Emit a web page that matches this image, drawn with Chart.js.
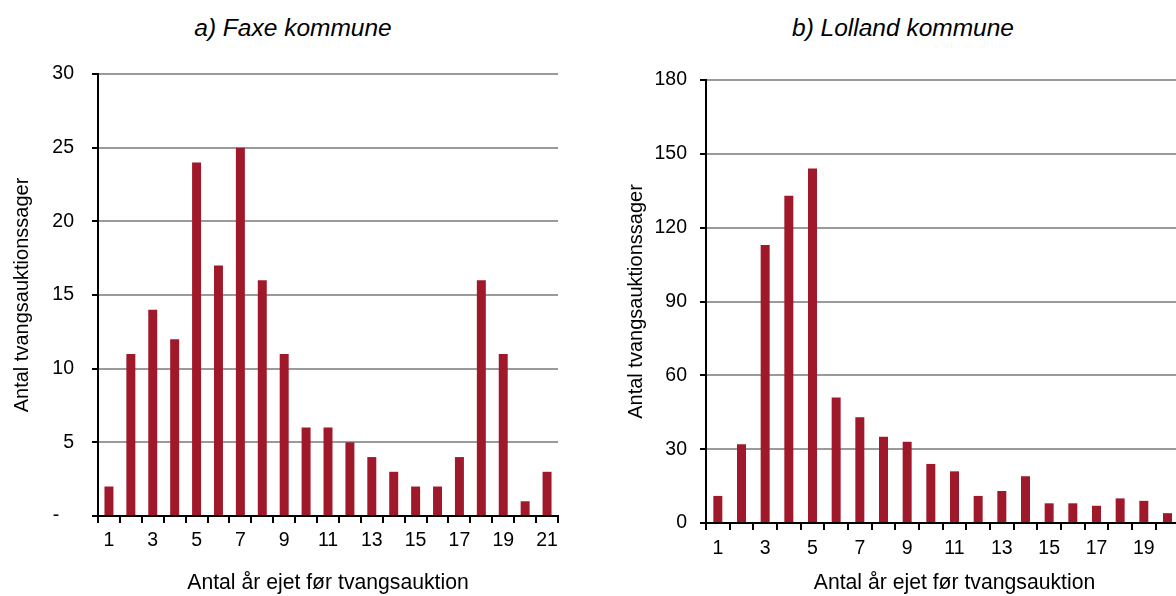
<!DOCTYPE html>
<html>
<head>
<meta charset="utf-8">
<script src="https://cdn.jsdelivr.net/npm/chart.js@4.4.0/dist/chart.umd.min.js"></script>
<style>
  html, body { margin: 0; padding: 0; width: 1176px; height: 596px; overflow: hidden; background: #fff; }
  .panel { position: absolute; top: 0; height: 596px; }
  .title {
    position: absolute; top: 14px; height: 28px; line-height: 28px;
    text-align: center; font: italic 24.5px "Liberation Sans", Arial, sans-serif; color: #000;
  }
  #faxeTitle { left: 0; width: 586px; }
  #lollandTitle { left: 603px; width: 600px; }
  #faxeBox { left: 0; width: 580px; }
  #lollandBox { left: 606px; width: 603px; }
</style>
</head>
<body>
<div class="title" id="faxeTitle">a) Faxe kommune</div>
<div class="title" id="lollandTitle">b) Lolland kommune</div>
<div class="panel" id="faxeBox"><canvas id="faxeChart" width="580" height="596"></canvas></div>
<div class="panel" id="lollandBox"><canvas id="lollandChart" width="603" height="596"></canvas></div>

<script>
// Years owned before the forced sale (x categories)
const years = ['1', '2', '3', '4', '5', '6', '7', '8', '9', '10', '11',
  '12', '13', '14', '15', '16', '17', '18', '19', '20', '21'];

// Number of forced sale cases per year owned
const faxeCases = [2, 11, 14, 12, 24, 17, 25, 16, 11, 6, 6, 5, 4, 3, 2, 2, 4, 16, 11, 1, 3];
const lollandCases = [11, 32, 113, 133, 144, 51, 43, 35, 33, 24, 21, 11, 13, 19, 8, 8, 7, 10, 9, 4, 4];

// y axis ranges
const faxeMax = 30, faxeStep = 5;
const lollandMax = 180, lollandStep = 30;

const xTitle = 'Antal år ejet før tvangsauktion';
const yTitle = 'Antal tvangsauktionssager';

const barColor = '#A0192B';
const fontFamily = '"Liberation Sans", Arial, sans-serif';

function makeChart(canvasId, values, opt) {
  const ctx = document.getElementById(canvasId).getContext('2d');

  return new Chart(ctx, {
    type: 'bar',
    data: {
      labels: years,
      datasets: [{
        data: values,
        backgroundColor: barColor,
        borderWidth: 0,
        categoryPercentage: 1,
        barPercentage: opt.barPct
      }]
    },
    options: {
      responsive: false,
      animation: false,
      layout: { padding: { top: opt.top, right: opt.right, left: 0, bottom: 0 } },
      plugins: {
        legend: { display: false },
        title: { display: false },
        tooltip: { enabled: false }
      },
      scales: {
        x: {
          offset: true,
          grid: {
            offset: true,
            drawOnChartArea: false,
            drawTicks: true,
            tickLength: 7,
            tickColor: '#000',
            lineWidth: 2
          },
          border: { color: '#000', width: 2 },
          ticks: {
            autoSkip: false,
            maxRotation: 0,
            padding: opt.xPad,
            color: '#000',
            font: { family: fontFamily, size: 19.5 },
            // only every second label is printed
            callback: function (value, index) {
              return index % 2 === 0 ? years[index] : '';
            }
          },
          title: {
            display: true,
            text: xTitle,
            color: '#000',
            font: { family: fontFamily, size: 21.2, lineHeight: 1.2 },
            padding: { top: 0, bottom: 0 }
          },
          afterFit: function (scale) { scale.height = opt.xHeight; }
        },
        y: {
          min: 0,
          max: opt.max,
          grid: {
            color: '#9a9a9a',
            lineWidth: 2,
            tickLength: 6,
            tickColor: '#000'
          },
          border: { color: '#000', width: 2 },
          ticks: {
            stepSize: opt.step,
            padding: opt.yPad,
            color: '#000',
            font: { family: fontFamily, size: 19.5 },
            callback: opt.yLabel
          },
          title: {
            display: true,
            text: yTitle,
            color: '#000',
            font: { family: fontFamily, size: 20, lineHeight: 1.2 },
            padding: { top: opt.yTitlePad, bottom: 0 }
          },
          afterFit: function (scale) { scale.width = opt.yWidth; }
        }
      }
    }
  });
}

// Faxe: zero is written as a dash, like the accounting format in the original
makeChart('faxeChart', faxeCases, {
  max: faxeMax, step: faxeStep, barPct: 0.41,
  top: 74, right: 22, xHeight: 80, yWidth: 98,
  xPad: 6, yPad: 18, yTitlePad: 10,
  yLabel: function (value) { return value === 0 ? '-  \u2009' : value; }
});

makeChart('lollandChart', lollandCases, {
  max: lollandMax, step: lollandStep, barPct: 0.38,
  top: 80, right: 0, xHeight: 73, yWidth: 100,
  xPad: 7, yPad: 13, yTitlePad: 18,
  yLabel: function (value) { return value; }
});
</script>
</body>
</html>
